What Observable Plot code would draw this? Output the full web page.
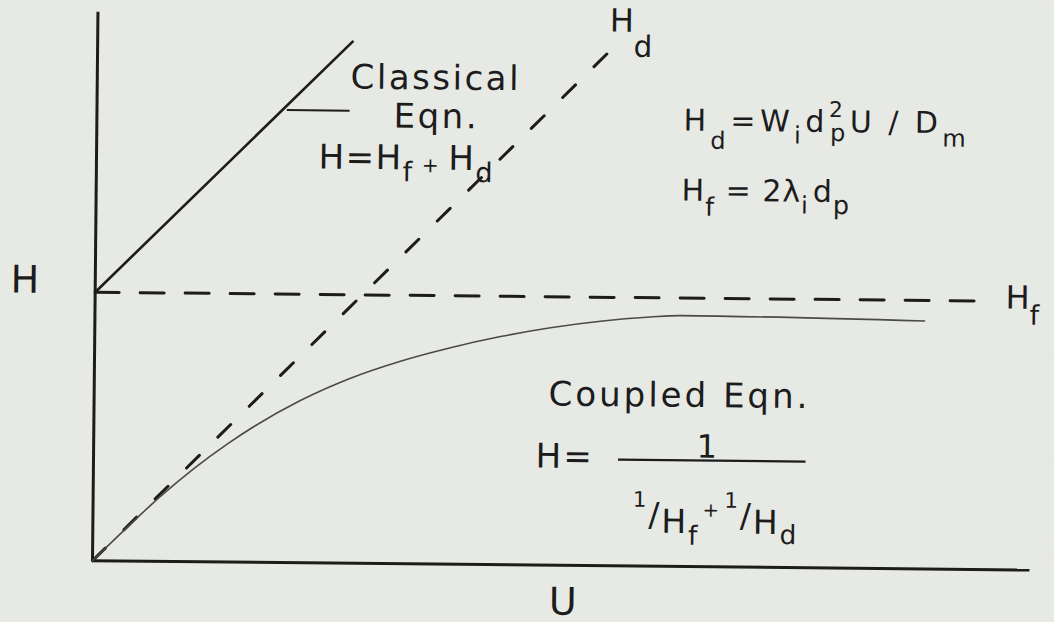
<!DOCTYPE html>
<html>
<head>
<meta charset="utf-8">
<script src="https://cdn.jsdelivr.net/npm/d3@7"></script>
<script src="https://cdn.jsdelivr.net/npm/@observablehq/plot@0.6"></script>
<style>
  html, body { margin: 0; padding: 0; background: #e7e9e4; overflow: hidden; }
  #chart svg { display: block; transform: rotate(0.57deg); transform-origin: 50% 50%; }
</style>
</head>
<body>
<div id="chart"></div>
<script>
// Plate height H against velocity U (arbitrary units)

// Diffusion term H_d: straight line through the origin
const hdU = [0, 5.598];
const hdH = [0, 9.615];

// Flow term H_f: constant level
const hfU = [0, 9.55];
const hfH = [4.895, 4.895];

// Classical equation H = H_f + H_d
const classicalU = [0, 2.72];
const classicalH = [4.895, 9.51];

// Coupled equation H = 1 / (1/H_f + 1/H_d)
const coupledU = [0, 0.366, 0.718, 1.068, 1.428, 1.704, 2.20, 2.733, 3.264, 3.796, 4.328, 4.86, 5.393, 5.925, 6.245, 8.85];
const coupledH = [0, 0.615, 1.185, 1.693, 2.154, 2.471, 2.957, 3.373, 3.692, 3.947, 4.160, 4.330, 4.458, 4.543, 4.575, 4.52];

const toRows = (us, hs) => us.map((u, i) => ({u, h: hs[i]}));

// Annotation text: plain string -> styled segments [text, baseline shift (em), scale, dx px]
const rich = new Map([
  ["Classical",      {fs: 34, ls: 2.5, segs: [["Classical", 0]]}],
  ["Eqn.",           {fs: 34, ls: 2.5, segs: [["Eqn.", 0]]}],
  ["H=Hf+Hd",        {fs: 34, ls: 1.5, segs: [["H=H", 0], ["f", 0.35, 0.8], [" + ", 0.08, 0.6], ["H", 0], ["d", 0.35, 0.8]]}],
  ["Hd",             {fs: 32, ls: 0, segs: [["H", 0], ["d", 0.78, 0.92]]}],
  ["Hd=Wid2pU / Dm", {fs: 30, ls: 4.5, segs: [["H", 0], ["d", 0.6, 0.8], ["=W", 0], ["i", 0.4, 0.8], ["d", 0], ["2", -0.5, 0.72], ["p", 0.3, 0.8, -17], ["U", 0], ["/", 0, 1, 12], ["D", 0, 1, 12], ["m", 0.45, 0.8]]}],
  ["Hf = 2λi dp",    {fs: 30, ls: 1, segs: [["H", 0], ["f", 0.5, 0.85], [" = 2λ", 0], ["i", 0.4, 0.8], ["d", 0, 1, 4], ["p", 0.4, 0.85]]}],
  ["Hf",             {fs: 32, ls: 0, segs: [["H", 0], ["f", 0.5, 0.85]]}],
  ["Coupled Eqn.",   {fs: 34, ls: 3, segs: [["Coupled Eqn.", 0]]}],
  ["H=",             {fs: 34, ls: 2, segs: [["H=", 0]]}],
  ["1",              {fs: 32, ls: 0, segs: [["1", 0]]}],
  ["1/Hf+1/Hd",      {fs: 33, ls: 2, segs: [["1", -0.78, 0.65], ["/", -0.2, 1], ["H", 0], ["f", 0.35, 0.8], ["+", -0.5, 0.6, 3], ["1", -0.78, 0.65, 3], ["/", -0.2, 1], ["H", 0], ["d", 0.3, 0.8]]}],
  ["H",              {fs: 38, ls: 0, segs: [["H", 0]]}],
  ["U",              {fs: 38, ls: 0, segs: [["U", 0]]}]
]);

// Where each annotation sits, in data units (baseline anchored)
const labels = [
  {text: "Classical", u: 2.702, h: 8.655, anchor: "start"},
  {text: "Eqn.", u: 3.165, h: 7.953, anchor: "start"},
  {text: "H=Hf+Hd", u: 2.369, h: 7.19, anchor: "start"},
  {text: "Hd", u: 5.46, h: 9.741, anchor: "start"},
  {text: "Hd=Wid2pU / Dm", u: 6.258, h: 7.95, anchor: "start"},
  {text: "Hf = 2λi dp", u: 6.244, h: 6.675, anchor: "start"},
  {text: "Hf", u: 9.712, h: 4.764, anchor: "start"},
  {text: "Coupled Eqn.", u: 4.847, h: 2.912, anchor: "start"},
  {text: "H=", u: 4.716, h: 1.779, anchor: "start"},
  {text: "1", u: 6.539, h: 1.993, anchor: "middle"},
  {text: "1/Hf+1/Hd", u: 5.757, h: 0.611, anchor: "start"},
  {text: "H", u: -0.903, h: 4.875, anchor: "start"},
  {text: "U", u: 5.02, h: -0.9, anchor: "middle"}
];

const ink = "#1c1c1c";

const plot = Plot.plot({
  width: 1054,
  height: 622,
  marginLeft: 94.5,
  marginRight: 22,
  marginTop: 16,
  marginBottom: 57.5,
  x: {domain: [0, 10], axis: null},
  y: {domain: [0, 10], axis: null},
  style: {background: "#e7e9e4", fontFamily: "'DejaVu Sans', sans-serif", color: ink, overflow: "visible"},
  marks: [
    // axes
    Plot.ruleX([0], {y1: 0, y2: 10, stroke: ink, strokeWidth: 3}),
    Plot.ruleY([0], {x1: 0, x2: 10, stroke: ink, strokeWidth: 3}),
    // H_f level and H_d line
    Plot.line(toRows(hfU, hfH), {x: "u", y: "h", stroke: ink, strokeWidth: 3, strokeDasharray: "24,21"}),
    Plot.line(toRows(hdU, hdH), {x: "u", y: "h", stroke: ink, strokeWidth: 3, strokeDasharray: "18,26"}),
    // classical and coupled curves
    Plot.line(toRows(classicalU, classicalH), {x: "u", y: "h", stroke: ink, strokeWidth: 2.6}),
    Plot.line(toRows(coupledU, coupledH), {x: "u", y: "h", curve: "monotone-x", stroke: "#4a4a4a", strokeWidth: 1.6}),
    // pointer to the classical line and fraction bar
    Plot.ruleY([8.25], {x1: 2.03, x2: 2.70, stroke: ink, strokeWidth: 2}),
    Plot.ruleY([1.936], {x1: 5.6, x2: 7.6, stroke: ink, strokeWidth: 2.2}),
    // annotations
    Plot.text(labels.filter(d => d.anchor === "start"), {x: "u", y: "h", text: "text", textAnchor: "start", lineAnchor: "bottom", fontSize: 30, fill: ink}),
    Plot.text(labels.filter(d => d.anchor === "middle"), {x: "u", y: "h", text: "text", textAnchor: "middle", lineAnchor: "bottom", fontSize: 30, fill: ink})
  ]
});

// Typeset sub- and superscripts with tspans
const ns = "http://www.w3.org/2000/svg";
plot.querySelectorAll("text").forEach(t => {
  const spec = rich.get(t.textContent);
  if (!spec) return;
  const {fs, ls, segs} = spec;
  t.textContent = "";
  t.setAttribute("font-size", fs);
  t.setAttribute("xml:space", "preserve");
  if (ls) t.setAttribute("letter-spacing", ls);
  let cur = 0;
  for (const [s, shift = 0, scale = 1, dx = 0] of segs) {
    const ts = document.createElementNS(ns, "tspan");
    const off = shift * fs;
    ts.setAttribute("dy", off - cur);
    cur = off;
    if (scale !== 1) ts.setAttribute("font-size", fs * scale);
    if (dx) ts.setAttribute("dx", dx);
    ts.textContent = s;
    t.appendChild(ts);
  }
});

document.getElementById("chart").appendChild(plot);
</script>
</body>
</html>
